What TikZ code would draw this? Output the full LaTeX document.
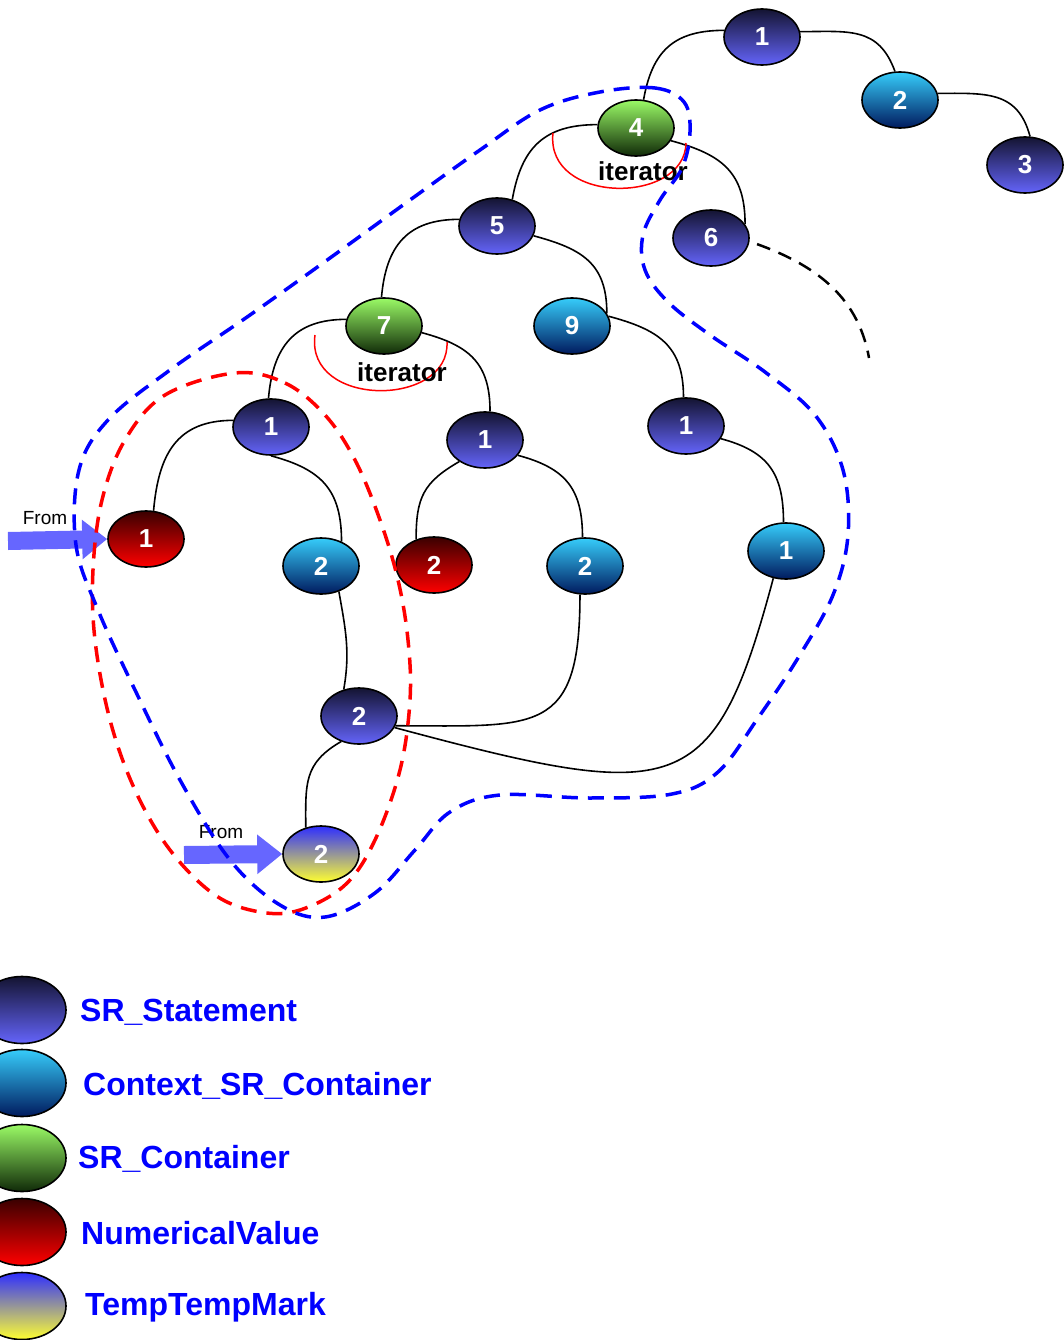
\documentclass[tikz,border=0pt]{standalone}
\usepackage{fontspec}
\setmainfont{Liberation Sans}
\usepackage{xcolor}
\usetikzlibrary{shapes.geometric,arrows.meta}
\definecolor{stmttop}{HTML}{141432}
\definecolor{stmtbot}{HTML}{6464FA}
\definecolor{ctxtop}{HTML}{36CCFA}
\definecolor{ctxbot}{HTML}{001A5E}
\definecolor{conttop}{HTML}{9AFA66}
\definecolor{contbot}{HTML}{102A08}
\definecolor{numtop}{HTML}{3A0000}
\definecolor{numbot}{HTML}{FF0000}
\definecolor{marktop}{HTML}{2E2EFF}
\definecolor{markbot}{HTML}{FFFF30}
\definecolor{arrowblue}{HTML}{6666FF}
\definecolor{legblue}{HTML}{0000FF}

\begin{document}
\begin{tikzpicture}[x=1pt,y=1pt,
  obj/.style={ellipse,draw=black,line width=1.6pt,minimum width=76pt,minimum height=56pt,inner sep=0pt,text=white,font=\fontsize{26}{26}\selectfont\bfseries},
  stmtfill/.style={top color=stmttop,bottom color=stmtbot},
  ctxfill/.style={top color=ctxtop,bottom color=ctxbot},
  contfill/.style={top color=conttop,bottom color=contbot},
  numfill/.style={top color=numtop,bottom color=numbot},
  markfill/.style={top color=marktop,bottom color=markbot},
  stmt/.style={obj,stmtfill},
  ctx/.style={obj,ctxfill},
  cont/.style={obj,contfill},
  numv/.style={obj,numfill},
  tmark/.style={obj,markfill},
  leg/.style={ellipse,draw=black,line width=1.6pt,minimum width=88pt,minimum height=67pt,inner sep=0pt},
  legtext/.style={anchor=west,inner sep=0pt,text=legblue,font=\fontsize{32}{32}\selectfont\bfseries},
  itlab/.style={inner sep=0pt,font=\fontsize{26}{26}\selectfont\bfseries},
  fromlab/.style={inner sep=0pt,font=\fontsize{19}{19}\selectfont},
  fromarr/.style={draw=arrowblue,line width=18pt,-{Triangle[length=25pt,width=38pt]}},
  hull/.style={line width=3.5pt,dash pattern=on 16pt off 10pt}]
  \useasboundingbox (0,0) rectangle (1064,-1340);

  \node[stmt] (t1) at (762,-37) {1};
  \node[ctx] (t2) at (900,-100) {2};
  \node[stmt] (t3) at (1025,-165) {3};
  \node[cont] (n4) at (636,-128) {4};
  \node[stmt] (n5) at (497,-226) {5};
  \node[stmt] (n6) at (711,-238) {6};
  \node[cont] (n7) at (384,-326) {7};
  \node[ctx] (n9) at (572,-326) {9};
  \node[stmt] (a1) at (271,-427) {1};
  \node[stmt] (b1) at (485,-440) {1};
  \node[stmt] (c1) at (686,-426) {1};
  \node[numv] (r1) at (146,-539) {1};
  \node[ctx] (s2a) at (321,-566) {2};
  \node[numv] (r2) at (434,-565) {2};
  \node[ctx] (s2b) at (585,-566) {2};
  \node[ctx] (k1) at (786,-551) {1};
  \node[stmt] (m2) at (359,-716) {2};
  \node[tmark] (p2) at (321,-854) {2};

  \path[line width=1.6pt,looseness=1.2]
    (t1.170) edge[out=180,in=80] (n4.75)
    (t1.8) edge[out=0,in=110] (t2.100)
    (t2.10) edge[out=0,in=105] (t3.80)
    (n4.175) edge[out=180,in=80] (n5.60)
    (n4.-20) edge[out=-15,in=90] (n6.22)
    (n5.170) edge[out=180,in=85] (n7.95)
    (n5.-15) edge[out=-15,in=90] (n9.20)
    (n7.170) edge[out=180,in=85] (a1.95)
    (n7.-10) edge[out=-15,in=90] (b1.80)
    (n9.15) edge[out=-15,in=90] (c1.95)
    (a1.170) edge[out=180,in=85] (r1.75)
    (a1.-90) edge[out=-15,in=90] (s2a.50)
    (b1.220) edge[out=210,in=90] (r2.125)
    (b1.-25) edge[out=-15,in=90] (s2b.95)
    (c1.-20) edge[out=-15,in=90] (k1.95)
    (s2a.-55) edge[out=-80,in=80,looseness=1] (m2.120)
    (m2.-125) edge[out=210,in=90] (p2.120)
    (m2.-15) edge[out=0,in=-90,looseness=1.6] (s2b.-100)
    (m2.-18) edge[out=-15,in=-105,out looseness=1.85,in looseness=1.45] (k1.-115);

  \coordinate (tail) at (869,-358);
  \draw[line width=2.5pt,dash pattern=on 14pt off 9pt,shorten <=8pt] (n6.-5) to[out=-20,in=100] (tail);

  \draw[red,line width=1.5pt] (553,-133) .. controls (545,-205) and (685,-205) .. (686,-143);
  \draw[red,line width=1.5pt] (315,-335) .. controls (305,-408) and (450,-408) .. (447,-342);
  \node[itlab] (it4) at (643,-171) {iterator};
  \node[itlab] (it7) at (402,-372) {iterator};

  \coordinate (f1) at (8,-541);
  \coordinate (f2) at (184,-855);
  \draw[fromarr] (f1) -- (r1.west);
  \draw[fromarr] (f2) -- (p2.west);
  \node[fromlab] (fl1) at (45,-518) {From};
  \node[fromlab] (fl2) at (221,-832) {From};

  \draw[hull,red] plot[smooth cycle,tension=0.6] coordinates {(235,-373) (285,-383) (325,-415) (355,-460) (380,-520) (398,-580) (408,-640) (410,-700) (400,-770) (375,-840) (345,-885) (300,-910) (260,-912) (215,-895) (170,-850) (135,-790) (110,-720) (95,-640) (93,-570) (102,-500) (125,-440) (165,-395)};
  \draw[hull,blue] plot[smooth cycle,tension=0.6] coordinates {(600,-92) (655,-88) (684,-102) (690,-132) (682,-168) (660,-200) (643,-235) (645,-270) (668,-302) (710,-335) (765,-372) (815,-415) (843,-470) (848,-535) (833,-595) (798,-658) (758,-718) (718,-772) (672,-794) (590,-798) (500,-795) (450,-812) (415,-850) (375,-893) (325,-917) (280,-905) (230,-860) (180,-780) (135,-690) (98,-610) (76,-545) (79,-470) (108,-420) (170,-370) (250,-315) (330,-258) (410,-200) (480,-150) (540,-110)};

  \node[leg,stmtfill] (l1) at (22,-1010) {};
  \node[leg,ctxfill] (l2) at (22,-1083) {};
  \node[leg,contfill] (l3) at (22,-1158) {};
  \node[leg,numfill] (l4) at (22,-1232) {};
  \node[leg,markfill] (l5) at (22,-1306) {};
  \node[legtext] (l1t) at (80,-1012) {SR\_Statement};
  \node[legtext] (l2t) at (83,-1086) {Context\_SR\_Container};
  \node[legtext] (l3t) at (78,-1159) {SR\_Container};
  \node[legtext] (l4t) at (81,-1233) {NumericalValue};
  \node[legtext] (l5t) at (85,-1307) {TempTempMark};
\end{tikzpicture}
\end{document}
